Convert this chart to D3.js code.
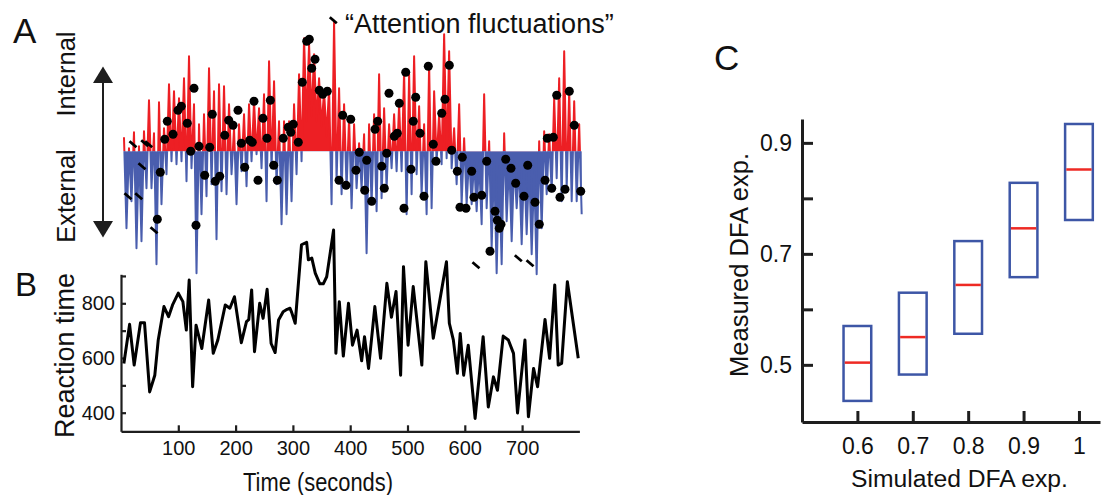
<!DOCTYPE html>
<html>
<head>
<meta charset="utf-8">
<script src="https://cdn.jsdelivr.net/npm/d3@7"></script>
<style>
  body { margin: 0; background: #fff; }
  svg text { font-family: "Liberation Sans", Arial, sans-serif; fill: #111; }
</style>
</head>
<body>
<div id="chart-container"></div>
<script>
// ---- panel A: attention signal (upper and lower extremes, one pair per step)
const attStart = 5.2, attStep = 8.73;
const attHigh = [0.14, 0.03, 0.19, 0.05, 0.2, 0.51, 0.18, 0.49, 0.23, 0.67, 0.6, 0.53, 0.73, 0.95, 0.47, 0.27,
  0.37, 0.83, 0.6, 0.67, 0.65, 0.47, 0.23, 0.27, 0.37, 0.47, 0.5, 0.43, 0.57, 0.9, 0.7,
  0.3, 0.3, 0.3, 0.47, 0.77, 1.13, 1.07, 0.97, 0.73, 0.6, 0.63, 1.3, 0.63, 0.47, 0.33, 0.27,
  0.08, 0.17, 0.27, 0.37, 0.77, 0.43, 0.27, 0.37, 0.47, 0.8, 0.77, 0.95, 0.45, 0.27, 0.87,
  0.6, 0.37, 1.17, 1.0, 0.23, 0.47, 0.13, -0.05, -0.1, -0.1, 0.57, 0.1, -0.1, -0.15, 0.18,
  -0.1, -0.1, -0.15, -0.1, -0.15, -0.2, 0.1, 0.2, 0.17, 0.53, 0.73, 1.0, 0.6, 0.5, 0.27];
const attLow = [-0.77, -0.5, -0.97, -0.9, -0.37, -0.37, -1.13, -0.53, -0.23, -0.1, -0.13, -0.1, -0.3, -0.17, -1.22, -0.63,
  -0.45, -0.33, -0.88, -0.4, -0.43, -0.23, -0.53, -0.2, -0.35, -0.1, -0.03, -0.17, -0.5, -0.17, -0.33,
  -0.73, -0.63, -0.5, -0.23, -0.1, 0.3, 0.35, 0.3, 0.25, 0.15, -0.53, -0.3, -0.43, -0.37, -0.57, -0.37,
  -0.37, -1.02, -0.53, -0.6, -0.47, -0.37, -0.17, -0.2, -0.2, -0.63, -0.43, -0.23, -0.43, -0.63, -0.57,
  -0.1, -0.13, -0.07, -0.17, -0.33, -0.53, -0.53, -0.53, -0.6, -0.73, -0.57, -0.97, -1.22, -1.13, -0.7,
  -0.9, -0.57, -0.93, -0.83, -1.03, -1.23, -0.77, -0.43, -0.4, -0.27, -0.5, -0.37, -0.5, -0.5, -0.63];

// black dots (time, level)
const dotTime = [68.6, 63.4, 76.3, 80.8, 90.8, 99.5, 105.2, 115.7, 121.6, 127.4, 130.9, 136.1, 146.1, 154.8, 159.3,
  164.6, 172.3, 181, 188, 195.5, 204.2, 210, 215.9, 224.6, 229.1, 232.1, 239.1, 247.8, 254.8, 260.6, 266.5,
  272.8, 283.2, 292, 296.2, 300.7, 309.4, 316.4, 324.1, 328.6, 332.8, 338.6, 346.1, 352, 360, 380.5, 386.9,
  392.7, 400.9, 410.1, 415.9, 425.3, 428.8, 437.5, 443.3, 448, 455, 459.5, 463.7, 467.7, 477, 482.2, 485.7,
  493.9, 496.9, 506.1, 510.1, 514.3, 521.8, 528.8, 536.3, 545, 549.7, 559.7, 565.4, 573, 577.1, 586.9, 591.6,
  595.6, 602.1, 612, 616, 629.5, 638.2, 644, 652.7, 656.7, 660.2, 663.2, 671.4, 680.6, 688.8, 703.3, 709.8,
  722.5, 730, 740, 744, 751.7, 754.5, 760.4, 766.1, 774.9, 782.4, 791.1, 802.3];
const dotValue = [-0.21, -0.68, 0.12, 0.3, 0.17, 0.41, 0.45, 0.28, 0.0, 0.63, -0.74, 0.05, -0.24, 0.04, 0.37,
  -0.3, -0.25, 0.16, 0.31, 0.26, 0.41, 0.08, -0.16, 0.11, 0.09, 0.5, -0.29, 0.33, 0.13, 0.51, -0.14,
  -0.29, 0.13, 0.24, 0.19, 0.27, 0.09, 0.69, 1.1, 1.12, 0.83, 0.92, 0.61, 0.57, 0.6, -0.29, 0.36,
  -0.34, 0.32, -0.19, -0.01, -0.39, -0.09, -0.5, 0.22, 0.3, -0.15, -0.37, -0.02, 0.58, 0.15, 0.18, 0.48,
  -0.57, 0.79, -0.18, 0.3, 0.54, 0.18, -0.45, 0.85, 0.07, -0.1, 0.38, 0.52, 0.86, 0.01, -0.2, -0.56,
  -0.06, -0.57, -0.2, -0.46, -0.44, -0.1, -1.0, -0.6, -0.69, -0.77, -0.73, -0.08, -0.17, -0.32, -0.45, -0.14,
  -0.51, -0.73, -0.29, 0.13, -0.37, 0.14, 0.56, -0.46, -0.38, 0.6, 0.26, -0.4];

// short dash markers
const dashTime = [12.2, 20.9, 30.9, 36.6, 41.4, 48.3, 57.6, 370.5, 619.5, 693.4, 713.8];
const dashValue = [-0.45, 0.07, -0.45, -0.15, 0.08, 0.07, -0.79, 1.31, -1.14, -1.07, -1.12];

// ---- panel B: reaction time
const rtTime = [5, 15, 23, 34, 41, 50, 59, 65, 75, 83, 90, 100, 108, 114, 119, 125, 131, 141, 153, 161, 169,
  182, 190, 198, 210, 219, 223, 228, 233, 242, 248, 255, 262, 269, 275, 283, 290, 295, 298, 304, 315, 324,
  327, 333, 339, 347, 353, 359, 371, 375, 381, 388, 397, 404, 412, 420, 425, 432, 443, 453, 464, 472, 480,
  488, 493, 501, 510, 525, 532, 545, 568, 573, 580, 587, 592, 598, 606, 618, 632, 641, 650, 657, 667, 676,
  685, 692, 705, 711, 720, 727, 740, 748, 757, 763, 769, 779, 798];
const rtValue = [580, 723, 574, 729, 729, 476, 537, 666, 788, 751, 794, 837, 806, 702, 885, 495, 720, 635, 812, 617, 666,
  794, 782, 824, 656, 733, 740, 849, 623, 800, 745, 851, 653, 620, 739, 769, 778, 782, 766, 727, 1014, 1023,
  959, 965, 910, 871, 871, 897, 1068, 617, 806, 607, 800, 647, 702, 590, 678, 562, 788, 599, 873, 749, 843,
  537, 934, 647, 861, 574, 952, 672, 952, 727, 666, 544, 690, 537, 647, 379, 678, 421, 531, 482, 680, 666,
  617, 399, 666, 385, 562, 495, 741, 599, 867, 574, 580, 879, 599];
const timeTicks = [100, 200, 300, 400, 500, 600, 700];
const rtTicks = [400, 500, 600, 700, 800, 900];
const rtLabels = [400, 600, 800];

// ---- panel C: DFA exponents
const simExp = [0.6, 0.7, 0.8, 0.9, 1];
const boxLow = [0.435, 0.4825, 0.556, 0.658, 0.761];
const boxHigh = [0.570, 0.630, 0.723, 0.828, 0.934];
const boxMedian = [0.504, 0.55, 0.644, 0.746, 0.852];
const measTicks = [0.5, 0.6, 0.7, 0.8, 0.9];
const measLabels = [0.5, 0.7, 0.9];

const red = "#ed1f24", blue = "#4a5eae", ink = "#1e1e1e";

var svg = d3.select("#chart-container").append("svg")
    .attr("width", 1104)
    .attr("height", 495);

// scales
let xTime = d3.scaleLinear().domain([0, 800]).range([121, 579.4]),
    yAtt = d3.scaleLinear().domain([-1, 1]).range([251.3, 51.3]),
    yRt = d3.scaleLinear().domain([332, 906]).range([431.3, 274.3]),
    xSim = d3.scaleLinear().domain([0.5, 1.038]).range([802, 1100]),
    ySim = d3.scaleLinear().domain([0.397, 0.943]).range([422, 119]);

// ---------- panel A
let attSignal = [];
attHigh.forEach((h, i) => {
    attSignal.push({ t: attStart + i * attStep, v: h });
    attSignal.push({ t: attStart + (i + 0.5) * attStep, v: attLow[i] });
});

let defs = svg.append("defs");
defs.append("clipPath").attr("id", "above")
    .append("rect").attr("x", 0).attr("y", 0).attr("width", 700).attr("height", yAtt(0));
defs.append("clipPath").attr("id", "below")
    .append("rect").attr("x", 0).attr("y", yAtt(0)).attr("width", 700).attr("height", 300);

let attLine = d3.line().x(d => xTime(d.t)).y(d => yAtt(d.v));
let attArea = d3.area().x(d => xTime(d.t)).y0(yAtt(0)).y1(d => yAtt(d.v));
[["above", red], ["below", blue]].forEach(([clip, colour]) => {
    let g = svg.append("g").attr("clip-path", `url(#${clip})`);
    g.append("path").datum(attSignal)
        .attr("d", attArea)
        .attr("fill", colour);
    g.append("path").datum(attSignal)
        .attr("d", attLine)
        .attr("fill", "none").attr("stroke", colour).attr("stroke-width", 2)
        .attr("stroke-linejoin", "round");
});

svg.append("g").selectAll("circle")
    .data(dotTime)
    .join("circle")
    .attr("cx", (d) => xTime(d))
    .attr("cy", (d, i) => yAtt(dotValue[i]))
    .attr("r", 4.5)
    .attr("fill", "#000");

svg.append("g").selectAll("line")
    .data(dashTime)
    .join("line")
    .attr("x1", (d) => xTime(d) - 3.5)
    .attr("y1", (d, i) => yAtt(dashValue[i]) - 3)
    .attr("x2", (d) => xTime(d) + 3.5)
    .attr("y2", (d, i) => yAtt(dashValue[i]) + 3)
    .attr("stroke", "#000").attr("stroke-width", 2.8);

// double arrow
svg.append("line")
    .attr("x1", 103).attr("x2", 103).attr("y1", 80).attr("y2", 224)
    .attr("stroke", ink).attr("stroke-width", 2);
svg.append("path").attr("d", "M103,66.5 L93,83 L113,83 Z").attr("fill", ink);
svg.append("path").attr("d", "M103,237.5 L93,221 L113,221 Z").attr("fill", ink);

svg.append("text").attr("x", 13).attr("y", 43).attr("font-size", 35).text("A");
svg.append("text").attr("transform", "translate(75,74) rotate(-90)")
    .attr("text-anchor", "middle").attr("font-size", 25.5).text("Internal");
svg.append("text").attr("transform", "translate(75,196) rotate(-90)")
    .attr("text-anchor", "middle").attr("font-size", 25.5).text("External");
svg.append("text").attr("x", 345).attr("y", 33).attr("font-size", 27)
    .text("\u201CAttention fluctuations\u201D");

// ---------- panel B
let rtAxisY = svg.append("g")
    .attr("class", "axis")
    .attr("transform", "translate(121,0)")
    .call(d3.axisLeft(yRt).tickValues(rtTicks).tickSizeInner(-5).tickSizeOuter(0).tickPadding(6)
        .tickFormat(d => rtLabels.includes(d) ? d : ""));
let rtAxisX = svg.append("g")
    .attr("class", "axis")
    .attr("transform", "translate(0,431.3)")
    .call(d3.axisBottom(xTime).tickValues(timeTicks).tickSizeInner(-6).tickSizeOuter(0).tickPadding(9.5));
[rtAxisY, rtAxisX].forEach(a => {
    a.selectAll("path, line").attr("stroke", ink).attr("stroke-width", 2.2);
    a.selectAll("text").attr("font-size", 20).attr("fill", "#111")
        .attr("font-family", "Liberation Sans, Arial, sans-serif");
});

svg.append("path")
    .datum(rtTime)
    .attr("d", d3.line().x(d => xTime(d)).y((d, i) => yRt(rtValue[i])))
    .attr("fill", "none").attr("stroke", "#000").attr("stroke-width", 3)
    .attr("stroke-linejoin", "round");

svg.append("text").attr("x", 15).attr("y", 296).attr("font-size", 33).text("B");
svg.append("text").attr("transform", "translate(74,355.5) rotate(-90)")
    .attr("text-anchor", "middle").attr("font-size", 27).text("Reaction time");
svg.append("text").attr("x", 243).attr("y", 491).attr("font-size", 25)
    .attr("textLength", 150).attr("lengthAdjust", "spacingAndGlyphs").text("Time (seconds)");

// ---------- panel C
let simAxisY = svg.append("g")
    .attr("transform", "translate(802,0)")
    .call(d3.axisLeft(ySim).tickValues(measTicks).tickSizeInner(-11).tickSizeOuter(0).tickPadding(10)
        .tickFormat(d => measLabels.includes(d) ? d : ""));
let simAxisX = svg.append("g")
    .attr("transform", "translate(0,422)")
    .call(d3.axisBottom(xSim).tickValues(simExp).tickSizeInner(-11).tickSizeOuter(0).tickPadding(16)
        .tickFormat(d => d));
[simAxisY, simAxisX].forEach(a => {
    a.selectAll("path, line").attr("stroke", ink).attr("stroke-width", 3);
    a.selectAll("text").attr("font-size", 23).attr("fill", "#111")
        .attr("font-family", "Liberation Sans, Arial, sans-serif");
});

let boxes = svg.append("g").selectAll("g")
    .data(simExp)
    .join("g");
boxes.append("rect")
    .attr("x", (d) => xSim(d - 0.025))
    .attr("y", (d, i) => ySim(boxHigh[i]))
    .attr("width", (d) => xSim(d + 0.025) - xSim(d - 0.025))
    .attr("height", (d, i) => ySim(boxLow[i]) - ySim(boxHigh[i]))
    .attr("fill", "none").attr("stroke", "#3d56a6").attr("stroke-width", 2.5);
boxes.append("line")
    .attr("x1", (d) => xSim(d - 0.025) + 1.2)
    .attr("x2", (d) => xSim(d + 0.025) - 1.2)
    .attr("y1", (d, i) => ySim(boxMedian[i]))
    .attr("y2", (d, i) => ySim(boxMedian[i]))
    .attr("stroke", "#ee2a24").attr("stroke-width", 2.5);

svg.append("text").attr("x", 714).attr("y", 70).attr("font-size", 35).text("C");
svg.append("text").attr("transform", "translate(748,265) rotate(-90)")
    .attr("text-anchor", "middle").attr("font-size", 25.5).text("Measured DFA exp.");
svg.append("text").attr("x", 959.5).attr("y", 486.7)
    .attr("text-anchor", "middle").attr("font-size", 24.7).text("Simulated DFA exp.");
</script>
</body>
</html>
